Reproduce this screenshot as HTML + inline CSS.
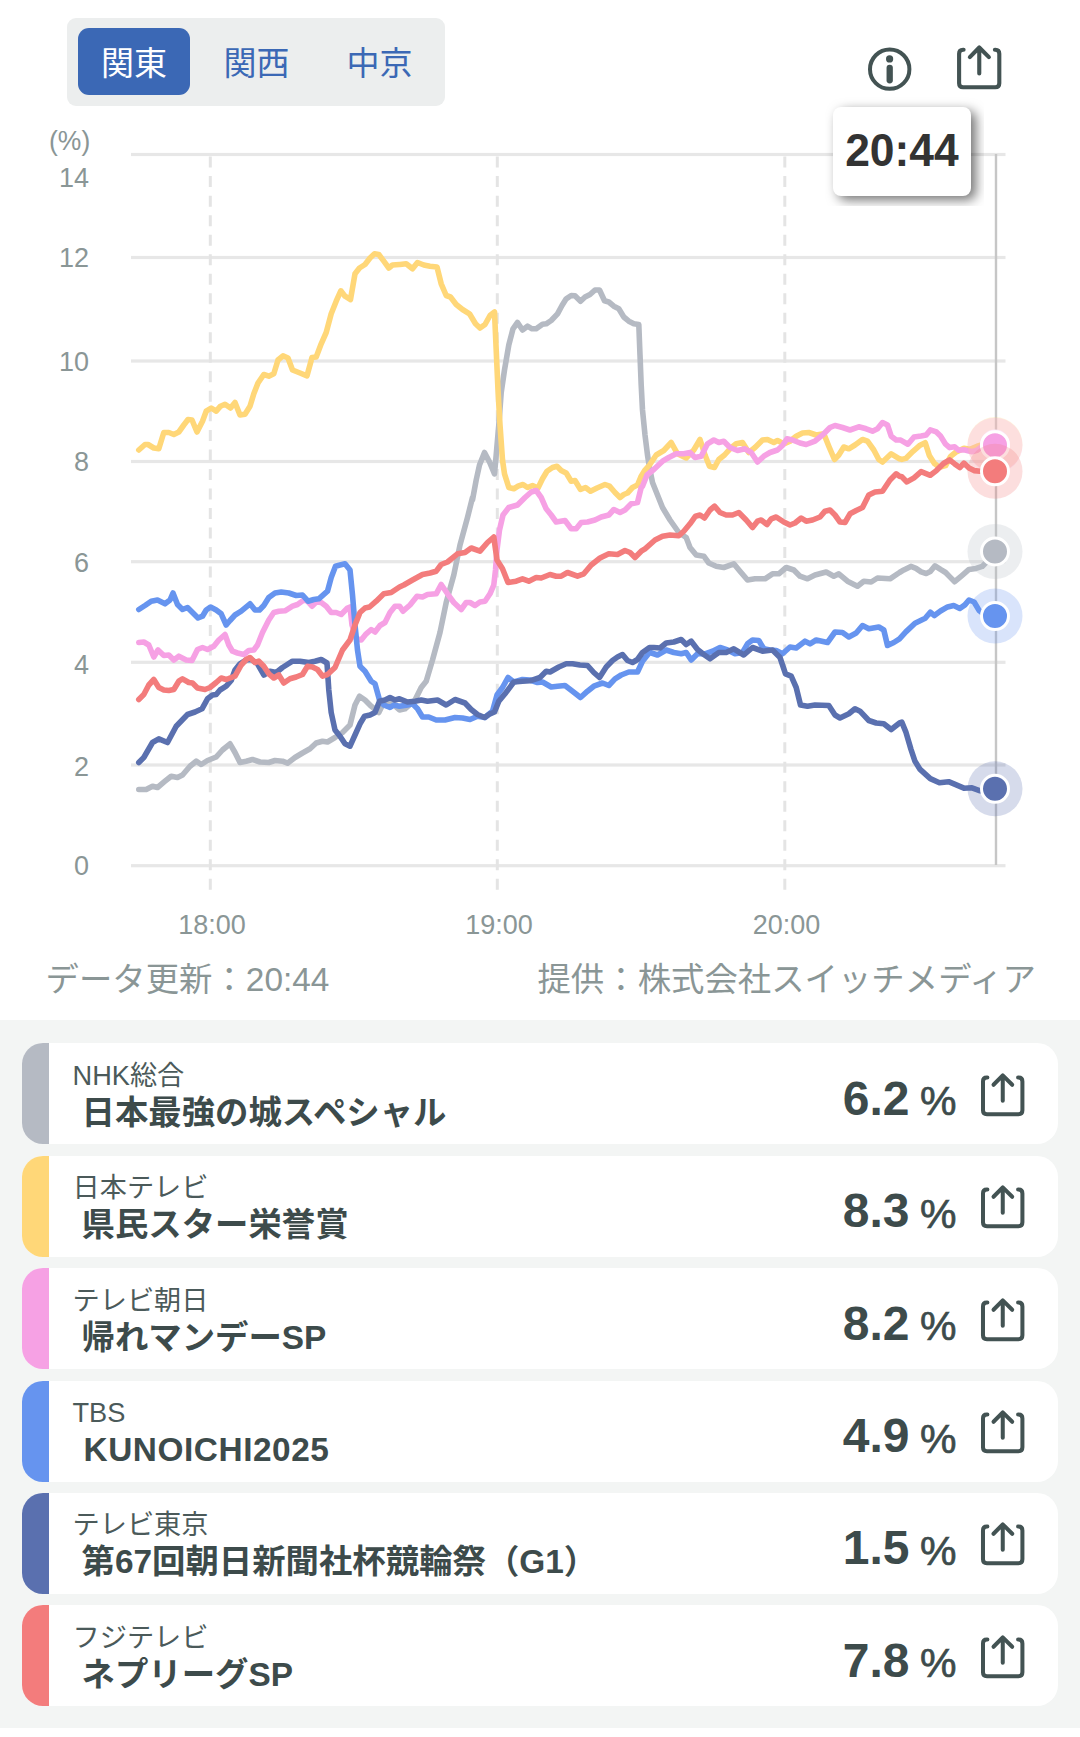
<!DOCTYPE html>
<html lang="ja"><head><meta charset="utf-8"><title>視聴率</title>
<style>
*{margin:0;padding:0;box-sizing:border-box}
html,body{width:1080px;height:1737px;background:#fff;overflow:hidden}
body{position:relative;font-family:"Liberation Sans","Noto Sans CJK JP",sans-serif;color:#3f4e4e}
.abs{position:absolute}
.tabs{position:absolute;left:67px;top:17.5px;width:378px;height:88.7px;background:#eceeee;border-radius:9px}
.tab{position:absolute;top:10.5px;height:67.2px;width:112px;line-height:72.8px;text-align:center;font-size:33px;color:#3b68b5;border-radius:11px}
.tab.on{background:#3b68b5;color:#fff}
.chart{position:absolute;left:0;top:0}
.yl{position:absolute;left:20px;width:69px;text-align:right;font-size:27px;line-height:30px;height:30px;color:#8a9696;transform:scaleY(1.05)}
.xl{position:absolute;top:909.5px;width:120px;text-align:center;font-size:27px;line-height:30px;color:#8a9696;transform:scaleY(1.05)}
.pct{position:absolute;left:49px;top:125.5px;font-size:26.5px;line-height:30px;color:#8a9696;transform:scaleY(1.04)}
.tipw{position:absolute;left:824.5px;top:97px;width:159.5px;height:108.5px;overflow:hidden}
.tip{position:absolute;left:8.5px;top:10px;width:137.8px;height:89px;background:#fff;border-radius:8px;box-shadow:5px 4px 12px rgba(0,0,0,.55)}
.tip span{display:block;font-weight:bold;font-size:44.4px;line-height:86px;text-align:center;color:#333;transform:scaleY(1.05);transform-origin:50% 50%}
.foot{position:absolute;top:955.5px;font-size:33.4px;line-height:48px;color:#8a9696;white-space:nowrap}
.list{position:absolute;left:0;top:1020px;width:1080px;height:708px;background:#f3f5f4}
.card{position:absolute;left:22px;width:1036px;height:101px;background:#fff;border-radius:21px;overflow:hidden}
.bar{position:absolute;left:0;top:0;width:27px;height:101px}
.st{position:absolute;left:50.5px;top:12.5px;font-size:27.2px;line-height:40px;color:#4b5a5a;white-space:nowrap}
.ti{position:absolute;left:59.5px;top:45.8px;font-size:33.4px;line-height:48px;font-weight:bold;color:#3d4b4b;white-space:nowrap}
.num{position:absolute;right:148.5px;top:23.5px;font-size:48px;line-height:64px;font-weight:bold;color:#3d4b4b;white-space:nowrap}
.la{letter-spacing:.55px}
.pc{position:absolute;left:898px;top:30px;font-size:41px;line-height:56px;color:#3d4b4b;-webkit-text-stroke:0.7px #3d4b4b}
.sh{position:absolute;left:954.6px;top:24.7px}
.sh0{position:absolute;left:953px;top:40px}
</style></head><body>
<svg class="chart" width="1080" height="1021" viewBox="0 0 1080 1021">
<rect x="131" y="152.9" width="874.5" height="3.2" fill="#e7e7e7"/>
<rect x="131" y="255.9" width="874.5" height="3.2" fill="#e7e7e7"/>
<rect x="131" y="359.4" width="874.5" height="3.2" fill="#e7e7e7"/>
<rect x="131" y="459.9" width="874.5" height="3.2" fill="#e7e7e7"/>
<rect x="131" y="560.1" width="874.5" height="3.2" fill="#e7e7e7"/>
<rect x="131" y="660.7" width="874.5" height="3.2" fill="#e7e7e7"/>
<rect x="131" y="763.4" width="874.5" height="3.2" fill="#e7e7e7"/>
<rect x="131" y="864.1" width="874.5" height="3.2" fill="#e7e7e7"/>
<line x1="210.3" y1="156.6" x2="210.3" y2="893" stroke="#e4e4e4" stroke-width="3" stroke-dasharray="11 8.52"/>
<line x1="497.3" y1="156.6" x2="497.3" y2="893" stroke="#e4e4e4" stroke-width="3" stroke-dasharray="11 8.52"/>
<line x1="784.8" y1="156.6" x2="784.8" y2="893" stroke="#e4e4e4" stroke-width="3" stroke-dasharray="11 8.52"/>
<line x1="996" y1="154" x2="996" y2="865" stroke="#c6c6c6" stroke-width="2.4"/>
<path d="M138.8 789.5 L146.2 789.5 L152.5 786.2 L157.5 787.5 L165.0 781.2 L171.2 776.2 L177.5 777.5 L182.5 775.0 L190.0 766.2 L196.2 761.2 L201.2 764.5 L207.5 760.5 L216.2 757.0 L222.5 750.0 L230.0 743.8 L235.0 752.5 L240.0 762.5 L246.2 761.2 L252.5 759.5 L260.0 762.0 L268.8 762.5 L275.0 760.5 L282.5 761.2 L287.5 763.2 L295.0 757.5 L302.5 753.0 L310.0 748.8 L316.2 743.0 L322.5 741.2 L327.5 742.0 L335.0 737.5 L342.5 732.5 L350.0 725.0 L355.0 705.0 L359.5 696.2 L365.0 700.0 L371.2 706.2 L378.8 712.5 L382.5 705.0 L388.8 702.5 L393.8 705.0 L399.5 710.0 L405.0 708.8 L415.0 700.0 L421.2 687.5 L426.2 681.2 L432.5 660.0 L440.0 632.5 L446.2 602.5 L453.8 575.0 L460.0 545.0 L467.5 517.5 L472.5 497.5 L472.5 500.0 L476.2 480.0 L479.5 465.0 L484.5 452.5 L489.5 462.0 L494.5 473.8 L496.2 455.0 L498.8 425.0 L501.2 392.5 L504.5 370.0 L508.8 345.0 L513.0 328.8 L517.5 322.5 L522.5 330.0 L527.5 326.2 L532.0 328.8 L536.2 328.8 L542.5 324.2 L546.2 323.8 L551.2 320.5 L557.5 313.8 L562.0 305.5 L566.2 298.8 L571.2 295.5 L575.0 295.8 L580.5 301.2 L585.0 297.0 L590.0 294.5 L595.0 290.0 L599.5 290.0 L604.5 300.8 L608.8 302.0 L613.8 306.2 L618.8 308.8 L623.8 317.0 L628.8 321.2 L633.8 323.8 L638.8 324.5 L640.0 355.0 L641.2 385.0 L642.5 410.0 L645.0 435.0 L647.5 455.0 L649.5 467.5 L652.5 482.5 L657.5 495.0 L662.5 507.5 L670.0 520.0 L678.8 532.5 L686.2 537.5 L690.0 547.5 L696.2 555.0 L703.8 556.2 L708.8 563.0 L716.2 566.2 L723.8 567.5 L733.8 563.8 L740.0 571.2 L747.5 580.0 L755.0 578.8 L765.0 578.8 L772.5 573.8 L778.8 573.8 L786.2 567.5 L793.8 570.0 L800.0 576.2 L807.5 578.8 L815.0 575.0 L826.2 572.0 L833.8 576.2 L838.8 573.8 L847.5 581.2 L857.5 586.2 L863.8 581.2 L871.2 582.0 L877.5 578.0 L890.0 578.8 L899.5 572.5 L903.8 569.9 L910.9 566.4 L916.0 568.4 L921.1 571.9 L926.2 573.5 L930.3 571.5 L935.0 565.8 L940.5 569.4 L945.6 572.5 L949.6 576.6 L954.7 581.7 L961.9 575.6 L969.0 569.4 L976.1 568.4 L982.2 566.4 L986.3 562.3 L994.9 551.5" fill="none" stroke="#b5bac3" stroke-width="5.6" stroke-linejoin="round" stroke-linecap="round"/>
<path d="M138.8 450.0 L145.0 444.5 L148.0 444.5 L153.8 448.0 L158.8 448.8 L163.8 432.5 L168.8 432.5 L173.8 434.5 L178.8 432.0 L183.8 425.0 L188.0 419.5 L192.0 420.0 L197.0 432.0 L202.5 421.2 L206.2 411.2 L211.2 408.0 L216.2 411.2 L220.5 406.2 L225.0 404.2 L230.5 408.0 L235.0 402.5 L240.0 415.0 L245.0 414.2 L250.0 406.2 L253.8 393.8 L258.0 383.0 L263.8 374.5 L268.8 376.2 L273.8 373.8 L278.0 360.0 L283.0 355.8 L288.0 358.0 L292.5 370.0 L300.0 373.0 L307.0 375.8 L312.0 357.5 L316.2 357.0 L321.2 343.8 L326.2 332.5 L331.2 313.8 L336.2 301.2 L340.8 290.8 L345.0 296.2 L350.5 299.5 L355.0 273.8 L359.5 268.0 L365.0 264.5 L370.0 258.0 L374.5 253.8 L378.8 254.5 L383.8 261.2 L388.8 268.0 L392.5 265.0 L399.5 264.5 L400.0 264.5 L406.2 263.8 L412.5 268.8 L417.5 262.5 L423.8 265.0 L430.0 266.2 L437.0 267.0 L441.2 283.8 L446.2 295.5 L450.5 297.0 L456.2 304.5 L462.5 309.5 L469.5 313.8 L475.5 323.8 L480.0 328.0 L485.0 324.5 L490.0 315.5 L494.5 312.0 L496.2 350.0 L498.0 390.0 L500.0 425.0 L502.5 460.0 L504.5 473.8 L508.8 487.5 L513.8 488.8 L518.0 486.2 L523.0 484.5 L527.5 487.5 L532.5 485.5 L538.0 488.0 L542.5 478.8 L547.0 471.2 L552.5 467.5 L557.0 466.2 L561.2 470.5 L566.2 473.0 L571.2 481.2 L575.0 480.5 L580.5 489.5 L585.5 487.5 L590.5 491.2 L597.0 488.0 L605.0 484.5 L609.5 486.2 L615.0 492.5 L620.0 497.5 L623.8 494.5 L627.5 493.0 L632.5 487.5 L637.5 485.0 L641.2 476.2 L645.0 470.0 L649.5 465.0 L656.2 455.0 L663.8 450.5 L671.2 442.5 L677.5 453.8 L686.2 458.0 L693.8 450.0 L700.0 439.5 L705.0 455.0 L709.5 466.2 L714.5 467.5 L718.8 459.5 L724.5 455.0 L730.0 448.8 L736.2 443.8 L742.5 442.5 L748.8 452.5 L755.0 447.5 L762.5 440.0 L767.5 439.5 L773.8 442.5 L777.5 440.5 L783.8 443.8 L790.0 441.2 L796.2 436.2 L802.5 433.0 L808.8 432.5 L816.2 435.0 L823.8 433.8 L828.8 446.2 L834.5 459.5 L838.8 455.0 L843.8 447.0 L848.8 448.8 L855.0 445.0 L862.5 439.5 L867.5 441.2 L873.8 450.0 L878.8 459.5 L882.5 462.0 L891.2 453.8 L899.5 458.8 L901.8 459.4 L905.8 458.4 L913.0 451.3 L920.1 445.2 L925.2 442.7 L929.3 455.4 L934.4 463.5 L939.4 467.2 L945.6 465.6 L950.6 456.4 L955.7 452.3 L963.9 448.2 L970.0 449.3 L977.1 446.2 L982.2 444.8 L994.9 443.6" fill="none" stroke="#ffd778" stroke-width="5.6" stroke-linejoin="round" stroke-linecap="round"/>
<path d="M138.8 642.5 L143.8 642.0 L148.8 645.0 L153.8 657.0 L158.0 650.0 L163.8 655.5 L168.8 655.0 L173.8 660.0 L178.8 656.2 L186.2 660.0 L192.0 660.5 L197.5 649.5 L202.5 647.5 L207.5 649.5 L213.8 646.2 L218.8 640.0 L225.0 634.5 L228.8 645.0 L232.5 651.2 L237.5 653.0 L243.8 654.5 L248.8 650.5 L253.8 650.0 L257.5 645.0 L262.5 632.5 L268.8 620.0 L273.8 612.5 L278.8 611.2 L285.0 610.8 L292.5 606.2 L297.5 604.5 L303.8 600.0 L307.5 601.2 L312.0 606.2 L316.2 602.0 L321.2 602.5 L326.2 606.2 L331.2 612.5 L336.2 612.5 L341.2 614.5 L347.5 608.0 L350.0 607.0 L352.0 625.0 L356.2 638.8 L361.2 640.0 L366.2 633.8 L371.2 629.5 L375.0 632.0 L380.0 625.5 L385.0 622.5 L390.0 612.5 L395.0 606.2 L399.5 606.2 L403.0 611.2 L410.0 605.0 L417.0 596.2 L422.5 597.0 L427.5 594.5 L436.2 593.8 L441.2 584.5 L447.5 593.8 L453.8 602.5 L461.2 609.5 L466.2 602.5 L470.0 602.5 L475.0 605.5 L480.0 602.0 L485.0 601.2 L490.0 593.8 L493.8 585.0 L495.5 570.0 L497.0 550.0 L499.5 530.0 L503.0 515.0 L508.8 507.5 L517.5 505.0 L525.0 497.5 L531.2 492.0 L536.2 490.5 L541.2 497.5 L546.2 508.8 L551.2 515.0 L556.2 522.0 L565.0 520.5 L571.2 528.8 L576.2 528.8 L581.2 522.5 L587.5 522.0 L595.0 520.0 L601.2 517.0 L608.8 515.0 L613.8 509.5 L620.0 512.5 L625.0 510.0 L631.2 503.8 L637.5 502.5 L641.2 487.5 L642.5 486.2 L647.0 475.0 L653.8 469.5 L662.5 461.2 L668.8 457.5 L676.2 453.8 L683.8 453.8 L690.0 452.5 L695.0 457.5 L701.2 456.2 L707.5 443.8 L713.8 440.0 L718.8 442.5 L723.8 441.2 L730.0 447.5 L737.5 450.5 L745.0 448.8 L751.2 452.5 L757.5 462.0 L763.8 456.2 L770.0 452.5 L777.5 450.0 L782.5 445.5 L787.0 438.8 L792.5 440.0 L800.0 443.0 L806.2 444.5 L815.0 441.2 L823.8 433.8 L830.0 427.5 L835.0 425.5 L842.5 427.5 L850.0 430.0 L858.8 426.8 L866.2 428.8 L872.5 431.2 L877.5 428.8 L882.5 422.5 L887.5 425.0 L891.2 436.2 L896.2 440.0 L899.5 440.0 L900.7 440.1 L907.9 444.2 L914.0 437.0 L921.1 436.0 L926.2 435.0 L930.3 429.9 L936.4 431.9 L940.5 436.0 L945.6 444.2 L949.6 447.6 L954.7 446.8 L958.8 450.3 L963.9 449.7 L972.0 451.7 L977.1 450.3 L982.2 446.2 L994.9 445.2" fill="none" stroke="#f6a1e4" stroke-width="5.6" stroke-linejoin="round" stroke-linecap="round"/>
<path d="M138.8 609.5 L145.0 605.5 L151.2 601.2 L157.5 600.0 L165.0 603.8 L170.0 600.0 L173.0 593.0 L177.5 604.5 L182.5 609.5 L187.5 607.5 L192.5 612.5 L198.0 618.0 L202.5 616.2 L206.2 610.0 L210.5 607.0 L216.2 610.0 L221.2 613.8 L226.2 625.0 L230.0 620.5 L235.0 615.0 L241.2 611.2 L250.0 603.8 L255.0 610.0 L259.5 610.0 L263.8 605.5 L268.8 597.5 L275.0 593.0 L281.2 592.0 L288.8 593.0 L296.2 595.5 L302.5 595.0 L308.0 601.2 L313.8 599.5 L318.8 598.8 L327.5 591.2 L331.2 577.5 L335.5 566.2 L340.0 565.0 L345.0 563.8 L350.0 570.0 L352.5 595.0 L355.0 625.0 L357.5 650.0 L360.0 666.2 L365.0 671.2 L371.2 681.2 L375.0 683.8 L379.5 700.0 L383.8 705.0 L390.0 707.5 L393.8 705.0 L399.5 706.2 L407.5 705.0 L412.5 703.8 L417.5 708.8 L422.5 717.0 L428.8 717.0 L436.2 720.0 L445.0 720.0 L455.0 717.5 L462.5 718.0 L470.0 719.5 L477.5 716.2 L485.0 717.5 L492.5 711.2 L497.0 695.0 L502.5 687.5 L508.0 677.5 L513.8 682.0 L522.5 679.5 L530.0 680.0 L537.5 682.5 L542.5 682.0 L551.2 687.0 L557.5 686.2 L565.0 685.5 L572.5 691.2 L580.5 697.5 L587.5 691.2 L593.8 686.2 L602.5 683.0 L608.8 685.5 L615.0 678.8 L621.2 675.0 L628.8 672.0 L637.5 672.0 L642.5 661.2 L649.5 652.5 L650.0 652.5 L657.5 655.0 L666.2 650.0 L673.8 652.5 L681.2 653.8 L686.2 652.5 L691.2 660.0 L697.5 653.8 L705.0 653.8 L712.5 651.2 L720.0 647.5 L727.5 650.0 L735.0 653.8 L742.5 652.5 L747.5 643.8 L752.5 640.0 L758.8 640.5 L763.8 648.8 L770.0 650.0 L776.2 650.5 L782.5 653.8 L790.0 647.0 L796.2 648.0 L805.0 641.2 L810.0 643.8 L816.2 640.0 L827.5 642.5 L835.0 632.0 L842.5 632.5 L848.8 637.0 L856.2 633.0 L862.5 625.5 L868.8 628.8 L878.8 627.0 L883.8 630.0 L887.5 645.5 L893.8 642.5 L899.5 638.8 L905.8 631.9 L915.0 623.2 L925.2 618.3 L930.3 612.2 L934.4 615.6 L940.5 611.0 L947.6 606.9 L953.7 605.5 L959.8 608.5 L964.9 604.9 L969.0 600.0 L974.1 602.0 L979.2 610.6 L984.3 614.6 L994.9 616.1" fill="none" stroke="#6694ef" stroke-width="5.6" stroke-linejoin="round" stroke-linecap="round"/>
<path d="M138.8 762.5 L143.8 757.5 L152.5 742.5 L158.8 738.8 L167.5 742.5 L176.2 726.2 L187.5 714.5 L195.0 712.0 L202.0 708.8 L207.5 698.8 L212.5 695.0 L216.2 694.5 L220.0 690.0 L226.2 686.2 L231.2 680.5 L235.0 670.0 L240.0 663.8 L246.2 660.0 L251.2 659.5 L257.5 663.8 L263.8 675.0 L270.0 671.2 L276.2 672.5 L282.5 667.5 L292.5 661.2 L300.0 661.2 L308.8 662.5 L315.0 661.2 L321.2 659.5 L327.0 663.0 L328.8 690.0 L331.2 712.5 L335.0 730.0 L340.0 736.2 L345.0 743.8 L350.0 746.2 L355.0 735.0 L360.0 723.8 L364.5 716.2 L370.0 715.0 L375.0 712.5 L379.5 701.2 L385.0 700.0 L390.0 697.5 L395.0 700.0 L399.5 698.8 L407.5 702.0 L415.0 701.2 L421.2 700.0 L427.5 701.2 L437.5 700.0 L446.2 705.0 L455.0 699.5 L465.0 703.0 L471.2 709.5 L477.5 714.5 L484.5 717.5 L490.0 713.8 L494.5 712.0 L498.8 701.2 L505.0 693.8 L513.8 682.0 L522.5 681.2 L530.0 680.8 L540.0 677.5 L546.2 671.2 L550.0 672.0 L558.8 667.0 L566.2 663.8 L572.5 663.8 L580.0 665.0 L587.5 665.5 L593.8 672.5 L599.5 677.5 L606.2 667.0 L612.5 660.5 L617.5 657.0 L622.5 654.5 L627.5 660.5 L632.5 662.5 L637.5 659.5 L642.5 652.5 L649.5 647.5 L653.8 647.5 L660.0 648.0 L666.2 643.0 L673.8 642.0 L681.2 639.5 L686.2 644.5 L691.2 641.2 L697.5 649.5 L703.8 654.5 L710.0 658.8 L718.8 652.5 L726.2 652.5 L733.8 648.8 L743.8 655.0 L752.5 647.5 L762.5 651.2 L772.5 650.0 L780.0 657.5 L785.5 673.8 L791.2 676.2 L796.2 687.5 L800.5 705.0 L807.5 706.2 L815.0 705.0 L828.8 705.5 L835.0 715.0 L840.0 718.0 L848.8 713.8 L855.0 708.8 L860.0 711.2 L868.8 720.5 L876.2 723.0 L883.8 723.8 L891.2 729.5 L899.5 723.0 L901.8 722.2 L905.8 731.8 L910.9 749.1 L915.0 761.3 L920.1 769.4 L930.3 778.6 L939.4 782.7 L948.6 781.7 L955.7 784.7 L963.9 788.2 L972.0 787.8 L980.2 790.8 L994.9 788.8" fill="none" stroke="#5a70af" stroke-width="5.6" stroke-linejoin="round" stroke-linecap="round"/>
<path d="M138.8 699.5 L143.8 694.5 L148.8 685.0 L153.8 679.5 L158.8 687.5 L163.8 690.0 L168.8 690.5 L173.8 689.5 L178.8 681.2 L182.5 678.8 L188.8 682.5 L192.5 683.0 L197.5 688.0 L205.0 689.5 L210.0 687.5 L216.2 682.5 L221.2 678.0 L226.2 679.5 L235.0 676.2 L241.2 665.0 L246.2 659.5 L250.0 657.5 L255.0 662.5 L258.8 661.2 L263.8 666.2 L268.8 673.8 L273.8 678.0 L278.8 675.0 L283.8 683.0 L290.0 678.8 L296.2 677.0 L302.5 674.5 L307.5 666.2 L312.5 667.0 L317.5 669.5 L322.5 676.2 L327.5 674.5 L335.0 667.5 L342.5 650.0 L350.0 640.0 L355.0 625.0 L360.0 612.5 L365.0 608.0 L369.5 607.0 L376.2 601.2 L383.8 593.8 L391.2 592.5 L399.5 587.0 L403.8 585.0 L412.5 580.0 L422.5 574.5 L430.0 573.0 L436.2 571.2 L441.2 564.5 L447.5 562.0 L457.5 553.8 L465.0 552.5 L471.2 548.0 L480.0 551.2 L487.5 542.5 L493.8 537.0 L497.0 560.0 L502.5 568.8 L508.0 582.5 L516.2 581.2 L522.5 578.8 L528.8 581.2 L536.2 577.5 L541.2 578.0 L550.0 574.5 L556.2 576.2 L561.2 576.2 L567.5 572.5 L577.5 576.2 L583.8 573.8 L591.2 565.0 L600.0 558.0 L608.8 553.8 L617.5 554.5 L625.0 550.5 L630.0 552.5 L635.0 557.5 L641.2 551.2 L645.0 548.8 L655.0 540.0 L662.5 536.2 L670.0 535.0 L678.8 535.8 L683.8 531.2 L690.0 523.8 L695.5 516.2 L700.0 515.0 L704.5 518.0 L710.0 510.0 L714.5 506.2 L720.0 512.5 L726.2 515.0 L732.5 515.0 L738.8 512.5 L746.2 520.0 L752.5 527.5 L757.5 521.2 L761.2 520.0 L767.0 524.5 L771.2 518.8 L776.2 517.0 L783.8 522.0 L790.0 525.0 L795.0 523.0 L801.2 518.0 L806.2 521.2 L812.5 520.0 L820.0 517.0 L825.0 511.2 L830.0 510.0 L835.0 515.0 L840.0 522.0 L845.0 522.5 L850.0 513.8 L856.2 510.5 L862.5 507.5 L868.8 495.0 L875.0 492.0 L882.5 491.2 L890.0 480.0 L896.2 473.8 L899.5 476.2 L901.8 476.8 L906.9 481.9 L914.0 477.8 L921.1 471.7 L930.3 475.3 L936.4 470.6 L943.5 463.5 L949.6 459.9 L954.7 463.9 L959.8 467.6 L963.9 463.1 L969.0 468.0 L974.1 470.6 L980.2 471.3 L994.9 471.3" fill="none" stroke="#f37c7c" stroke-width="5.6" stroke-linejoin="round" stroke-linecap="round"/>
<circle cx="995" cy="551.5" r="27.5" fill="#b5bac3" fill-opacity="0.25"/>
<circle cx="995" cy="551.5" r="13.5" fill="#b5bac3" stroke="#fff" stroke-width="3"/>
<circle cx="995" cy="444.6" r="27.5" fill="#ffd778" fill-opacity="0.25"/>
<circle cx="995" cy="444.6" r="13.5" fill="#ffd778" stroke="#fff" stroke-width="3"/>
<circle cx="995" cy="445.2" r="27.5" fill="#f6a1e4" fill-opacity="0.25"/>
<circle cx="995" cy="445.2" r="13.5" fill="#f6a1e4" stroke="#fff" stroke-width="3"/>
<circle cx="995" cy="616.1" r="27.5" fill="#6694ef" fill-opacity="0.25"/>
<circle cx="995" cy="616.1" r="13.5" fill="#6694ef" stroke="#fff" stroke-width="3"/>
<circle cx="995" cy="788.8" r="27.5" fill="#5a70af" fill-opacity="0.25"/>
<circle cx="995" cy="788.8" r="13.5" fill="#5a70af" stroke="#fff" stroke-width="3"/>
<circle cx="995" cy="471.3" r="27.5" fill="#f37c7c" fill-opacity="0.25"/>
<circle cx="995" cy="471.3" r="13.5" fill="#f37c7c" stroke="#fff" stroke-width="3"/>
</svg>
<div class="tabs"><div class="tab on" style="left:11px">関東</div><div class="tab" style="left:133.5px">関西</div><div class="tab" style="left:256.5px">中京</div></div>
<svg class="abs" style="left:866px;top:45px" width="48" height="48" viewBox="0 0 48 48" fill="none" stroke="#435353" stroke-width="4" stroke-linecap="round"><circle cx="23.7" cy="24.15" r="19.7"/><path d="M23.7 22.8 V35.3" stroke-width="6.3"/><circle cx="23.6" cy="13.9" r="3.6" fill="#435353" stroke="none"/></svg>
<svg class="sh0" width="52" height="52" viewBox="0 0 52 52" fill="none" stroke="#435353" stroke-width="4.1" stroke-linecap="round" stroke-linejoin="round"><path d="M10.6 9.8 H10.1 Q6.1 9.8 6.1 13.8 V43.2 Q6.1 47.2 10.1 47.2 H42.3 Q46.3 47.2 46.3 43.2 V13.8 Q46.3 9.8 42.3 9.8 H41.9"/><path d="M26.26 33.5 V7.6 M16.85 17.1 L26.26 7.5 L35.9 17.1"/></svg>
<div class="pct">(%)</div>
<div class="yl" style="top:162.8px">14</div>
<div class="yl" style="top:243.3px">12</div>
<div class="yl" style="top:346.5px">10</div>
<div class="yl" style="top:447.0px">8</div>
<div class="yl" style="top:547.5px">6</div>
<div class="yl" style="top:650.0px">4</div>
<div class="yl" style="top:751.7px">2</div>
<div class="yl" style="top:851.0px">0</div>
<div class="xl" style="left:152.0px">18:00</div>
<div class="xl" style="left:439.0px">19:00</div>
<div class="xl" style="left:726.5px">20:00</div>
<div class="tipw"><div class="tip"><span>20:44</span></div></div>
<div class="foot" style="left:45.5px">データ更新：20:44</div>
<div class="foot" style="right:44px">提供：株式会社スイッチメディア</div>
<div class="list"></div>
<div class="card" style="top:1043px"><div class="bar" style="background:#b5bac3"></div><div class="st">NHK総合</div><div class="ti">日本最強の城スペシャル</div><div class="num">6.2</div><div class="pc">%</div><svg class="sh" width="51" height="51" viewBox="0 0 52 52" fill="none" stroke="#435353" stroke-width="4.1" stroke-linecap="round" stroke-linejoin="round"><path d="M10.6 9.8 H10.1 Q6.1 9.8 6.1 13.8 V43.2 Q6.1 47.2 10.1 47.2 H42.3 Q46.3 47.2 46.3 43.2 V13.8 Q46.3 9.8 42.3 9.8 H41.9"/><path d="M26.26 33.5 V7.6 M16.85 17.1 L26.26 7.5 L35.9 17.1"/></svg></div>
<div class="card" style="top:1155.5px"><div class="bar" style="background:#ffd778"></div><div class="st">日本テレビ</div><div class="ti">県民スター栄誉賞</div><div class="num">8.3</div><div class="pc">%</div><svg class="sh" width="51" height="51" viewBox="0 0 52 52" fill="none" stroke="#435353" stroke-width="4.1" stroke-linecap="round" stroke-linejoin="round"><path d="M10.6 9.8 H10.1 Q6.1 9.8 6.1 13.8 V43.2 Q6.1 47.2 10.1 47.2 H42.3 Q46.3 47.2 46.3 43.2 V13.8 Q46.3 9.8 42.3 9.8 H41.9"/><path d="M26.26 33.5 V7.6 M16.85 17.1 L26.26 7.5 L35.9 17.1"/></svg></div>
<div class="card" style="top:1268px"><div class="bar" style="background:#f6a1e4"></div><div class="st">テレビ朝日</div><div class="ti">帰れマンデーSP</div><div class="num">8.2</div><div class="pc">%</div><svg class="sh" width="51" height="51" viewBox="0 0 52 52" fill="none" stroke="#435353" stroke-width="4.1" stroke-linecap="round" stroke-linejoin="round"><path d="M10.6 9.8 H10.1 Q6.1 9.8 6.1 13.8 V43.2 Q6.1 47.2 10.1 47.2 H42.3 Q46.3 47.2 46.3 43.2 V13.8 Q46.3 9.8 42.3 9.8 H41.9"/><path d="M26.26 33.5 V7.6 M16.85 17.1 L26.26 7.5 L35.9 17.1"/></svg></div>
<div class="card" style="top:1380.5px"><div class="bar" style="background:#6694ef"></div><div class="st">TBS</div><div class="ti"><span class="la" style="padding-left:2px">KUNOICHI2025</span></div><div class="num">4.9</div><div class="pc">%</div><svg class="sh" width="51" height="51" viewBox="0 0 52 52" fill="none" stroke="#435353" stroke-width="4.1" stroke-linecap="round" stroke-linejoin="round"><path d="M10.6 9.8 H10.1 Q6.1 9.8 6.1 13.8 V43.2 Q6.1 47.2 10.1 47.2 H42.3 Q46.3 47.2 46.3 43.2 V13.8 Q46.3 9.8 42.3 9.8 H41.9"/><path d="M26.26 33.5 V7.6 M16.85 17.1 L26.26 7.5 L35.9 17.1"/></svg></div>
<div class="card" style="top:1492.5px"><div class="bar" style="background:#5a70af"></div><div class="st">テレビ東京</div><div class="ti">第67回朝日新聞社杯競輪祭（G1）</div><div class="num">1.5</div><div class="pc">%</div><svg class="sh" width="51" height="51" viewBox="0 0 52 52" fill="none" stroke="#435353" stroke-width="4.1" stroke-linecap="round" stroke-linejoin="round"><path d="M10.6 9.8 H10.1 Q6.1 9.8 6.1 13.8 V43.2 Q6.1 47.2 10.1 47.2 H42.3 Q46.3 47.2 46.3 43.2 V13.8 Q46.3 9.8 42.3 9.8 H41.9"/><path d="M26.26 33.5 V7.6 M16.85 17.1 L26.26 7.5 L35.9 17.1"/></svg></div>
<div class="card" style="top:1605px"><div class="bar" style="background:#f37c7c"></div><div class="st">フジテレビ</div><div class="ti">ネプリーグSP</div><div class="num">7.8</div><div class="pc">%</div><svg class="sh" width="51" height="51" viewBox="0 0 52 52" fill="none" stroke="#435353" stroke-width="4.1" stroke-linecap="round" stroke-linejoin="round"><path d="M10.6 9.8 H10.1 Q6.1 9.8 6.1 13.8 V43.2 Q6.1 47.2 10.1 47.2 H42.3 Q46.3 47.2 46.3 43.2 V13.8 Q46.3 9.8 42.3 9.8 H41.9"/><path d="M26.26 33.5 V7.6 M16.85 17.1 L26.26 7.5 L35.9 17.1"/></svg></div>
</body></html>
